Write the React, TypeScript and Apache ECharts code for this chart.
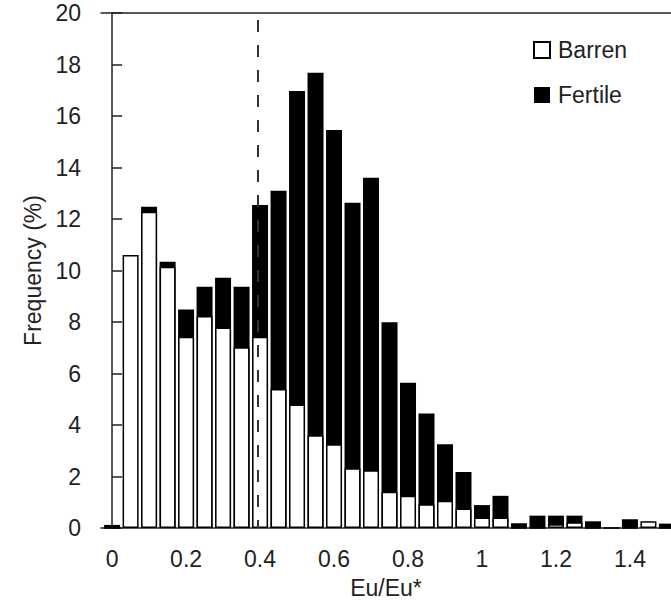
import React, { useEffect, useRef } from "react";
import * as echarts from "echarts";

// Bin centres (Eu/Eu*)
const binCenters = [
  0, 0.05, 0.1, 0.15, 0.2, 0.25, 0.3, 0.35, 0.4, 0.45, 0.5, 0.55, 0.6, 0.65,
  0.7, 0.75, 0.8, 0.85, 0.9, 0.95, 1.0, 1.05, 1.1, 1.15, 1.2, 1.25, 1.3, 1.35,
  1.4, 1.45, 1.5,
];
// Frequency (%) of fertile samples per bin
const fertile = [
  0.12, 0, 12.48, 10.34, 8.49, 9.37, 9.72, 9.37, 12.54, 13.1, 16.97, 17.68,
  15.46, 12.63, 13.6, 7.99, 5.64, 4.45, 3.25, 2.17, 0.89, 1.25, 0.18, 0.48,
  0.48, 0.48, 0.26, 0, 0.34, 0, 0.17,
];
// Frequency (%) of barren samples per bin
const barren = [
  0, 10.6, 12.28, 10.15, 7.43, 8.23, 7.79, 7.02, 7.43, 5.4, 4.8, 3.6, 3.25,
  2.32, 2.24, 1.41, 1.25, 0.92, 1.06, 0.76, 0.41, 0.41, 0, 0, 0.15, 0.22, 0, 0,
  0, 0.26, 0,
];
const thresholdX = 0.395;
const yTicksMax = 20;

const FONT = "Liberation Sans, Arial, Helvetica, sans-serif";

export default function App() {
  const ref = useRef<HTMLDivElement>(null);
  useEffect(() => {
    if (!ref.current) return;
    const chart = echarts.init(ref.current, null, { renderer: "svg" });
    const fmtX = (v: number) => {
      const r = Math.round(v * 5) / 5;
      if (Math.abs(v - r) > 1e-6) return "";
      return String(+r.toFixed(1));
    };
    chart.setOption({
      animation: false,
      backgroundColor: "#fff",
      grid: {
        left: 101,
        right: 0,
        top: 13,
        bottom: 72,
        containLabel: false,
        outerBoundsMode: "none",
      },
      legend: {
        orient: "vertical",
        left: 528,
        top: 33,
        itemWidth: 16,
        itemHeight: 16,
        itemGap: 21,
        icon: "rect",
        data: ["Barren", "Fertile"],
        textStyle: {
          fontFamily: FONT,
          fontSize: 23,
          color: "#222",
          lineHeight: 24,
          padding: [0, 0, 0, 3],
        },
      },
      xAxis: [
        {
          type: "value",
          min: -0.03,
          max: 1.511,
          splitNumber: 7,
          name: "Eu/Eu*",
          nameLocation: "middle",
          nameGap: 48,
          nameTextStyle: { fontFamily: FONT, fontSize: 23, color: "#222" },
          axisLine: { show: true, lineStyle: { color: "#222", width: 1.5 } },
          axisTick: { show: false },
          splitLine: { show: false },
          axisLabel: {
            formatter: fmtX,
            margin: 19,
            fontFamily: FONT,
            fontSize: 23,
            color: "#222",
          },
        },
        {
          type: "value",
          position: "top",
          min: -0.03,
          max: 1.511,
          axisLine: { show: true, lineStyle: { color: "#222", width: 1.5 } },
          axisTick: { show: false },
          axisLabel: { show: false },
          splitLine: { show: false },
        },
      ],
      yAxis: {
        type: "value",
        min: 0,
        max: yTicksMax,
        interval: 2,
        name: "Frequency (%)",
        nameLocation: "middle",
        nameGap: 57,
        nameTextStyle: { fontFamily: FONT, fontSize: 23, color: "#222" },
        axisLine: { show: true, lineStyle: { color: "#222", width: 1.5 } },
        axisTick: {
          show: true,
          inside: true,
          length: 10,
          lineStyle: { color: "#222", width: 1.5 },
        },
        splitLine: { show: false },
        axisLabel: {
          margin: 20,
          fontFamily: FONT,
          fontSize: 23,
          color: "#222",
        },
      },
      series: [
        {
          name: "Fertile",
          type: "bar",
          barWidth: 16,
          barGap: "-100%",
          itemStyle: { color: "#000", borderColor: "#000", borderWidth: 0 },
          data: binCenters.map((x, i) => [x, fertile[i]]),
        },
        {
          name: "Barren",
          type: "bar",
          barWidth: 16,
          barGap: "-100%",
          itemStyle: { color: "#fff", borderColor: "#000", borderWidth: 1.5 },
          data: binCenters.map((x, i) => [x, barren[i]]),
          markLine: {
            silent: true,
            symbol: "none",
            label: { show: false },
            lineStyle: { color: "#333", width: 2, type: [12, 13] },
            data: [
              [
                { coord: [thresholdX, 19.73] },
                { coord: [thresholdX, 0] },
              ],
            ],
          },
        },
      ],
    });
    return () => chart.dispose();
  }, []);
  return (
    <div
      ref={ref}
      style={{ position: "absolute", left: 0, top: 0, width: 671, height: 600 }}
    />
  );
}
